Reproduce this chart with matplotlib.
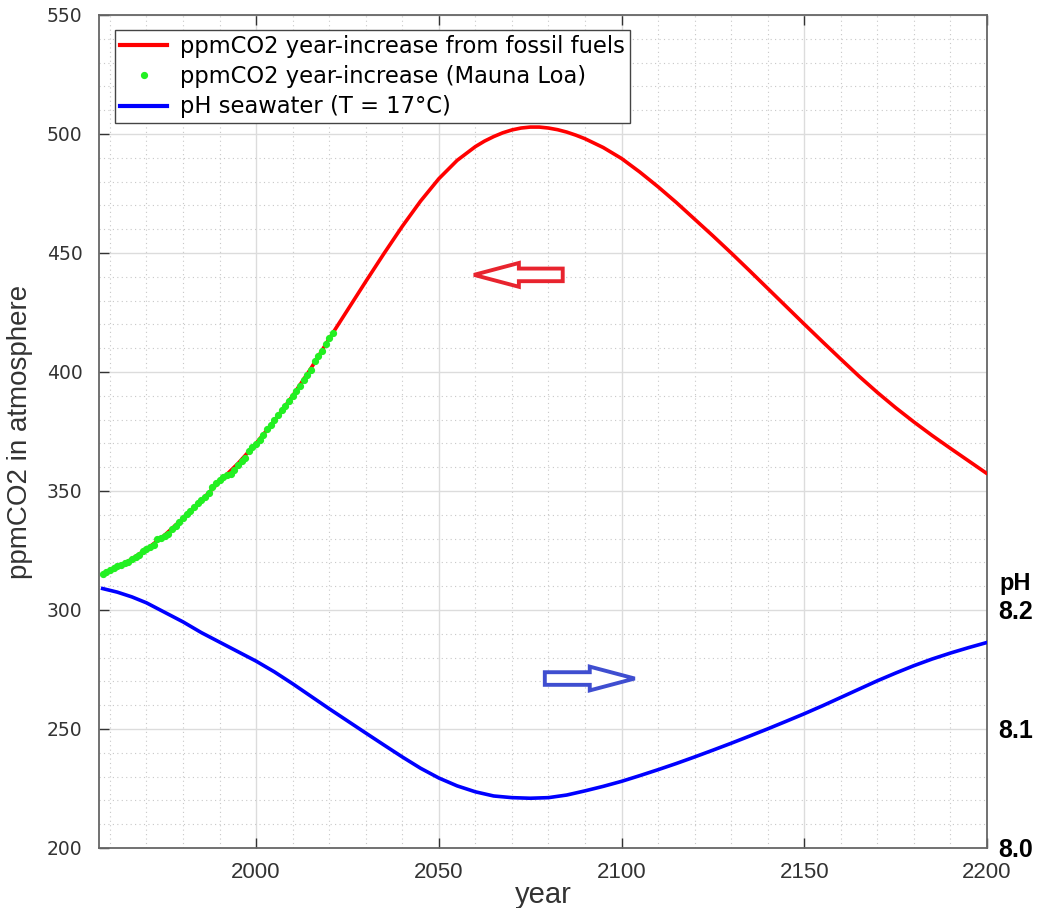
import matplotlib
matplotlib.use("Agg")
import matplotlib.pyplot as plt
import matplotlib.patches as mpatches
from matplotlib.ticker import MultipleLocator
from matplotlib.lines import Line2D

# ---------------- data ----------------
fossil_years = [1958, 1960, 1965, 1970, 1975, 1980, 1985, 1990, 1995, 2000, 2005,
                2010, 2015, 2020, 2025, 2030, 2035, 2040, 2045, 2050, 2055, 2060,
                2062.5, 2065, 2067.5, 2070, 2072.5, 2075, 2077.5, 2080, 2082.5,
                2085, 2087.5, 2090, 2095, 2100, 2105, 2110, 2115, 2120, 2125, 2130,
                2135, 2140, 2145, 2150, 2155, 2160, 2165, 2170, 2175, 2180, 2185,
                2190, 2195, 2200]
fossil_ppm = [315.0, 316.5, 320.5, 325.5, 331.5, 338.5, 346.0, 354.0, 361.5, 370.0,
              379.5, 390.0, 401.5, 414.0, 426.0, 438.0, 449.8, 461.2, 471.8, 481.2,
              488.9, 494.7, 497.0, 498.9, 500.5, 501.7, 502.5, 502.9, 502.9, 502.5,
              501.8, 500.8, 499.5, 498.0, 494.3, 489.7, 484.0, 477.8, 471.2, 464.2,
              457.2, 450.0, 442.6, 435.1, 427.6, 420.1, 412.7, 405.4, 398.2, 391.4,
              385.0, 379.0, 373.3, 367.9, 362.6, 357.3]

ml_years = list(range(1958, 2022))
ml_ppm = [315.3, 315.98, 316.91, 317.64, 318.45, 318.99, 319.62, 320.04, 321.37,
          322.18, 323.05, 324.62, 325.68, 326.32, 327.46, 329.68, 330.19, 331.12,
          332.03, 333.84, 335.41, 336.84, 338.76, 340.12, 341.48, 343.15, 344.85,
          346.35, 347.61, 349.31, 351.69, 353.20, 354.45, 355.70, 356.54, 357.21,
          358.96, 360.97, 362.74, 363.88, 366.84, 368.54, 369.71, 371.32, 373.45,
          375.98, 377.70, 379.98, 382.09, 384.02, 385.83, 387.64, 390.10, 391.85,
          394.06, 396.74, 398.81, 401.01, 404.41, 406.76, 408.72, 411.65, 414.21,
          416.41]

ph_years = [1958, 1962, 1966, 1970, 1975, 1980, 1985, 1990, 1995, 2000, 2005, 2010,
            2015, 2020, 2025, 2030, 2035, 2040, 2045, 2050, 2055, 2060, 2065, 2070,
            2075, 2080, 2085, 2090, 2095, 2100, 2105, 2110, 2115, 2120, 2125, 2130,
            2135, 2140, 2145, 2150, 2155, 2160, 2165, 2170, 2175, 2180, 2185, 2190,
            2195, 2200]
ph_values = [8.218, 8.215, 8.211, 8.206, 8.198, 8.190, 8.181, 8.173, 8.165, 8.157,
             8.148, 8.138, 8.1275, 8.117, 8.1068, 8.0966, 8.0865, 8.0765, 8.0670,
             8.0588, 8.0522, 8.0472, 8.0437, 8.0423, 8.0418, 8.0423, 8.0445, 8.0480,
             8.0518, 8.0560, 8.0608, 8.0658, 8.0710, 8.0765, 8.0822, 8.0880, 8.0940,
             8.1001, 8.1064, 8.1128, 8.1195, 8.1265, 8.1335, 8.1405, 8.1470, 8.1532,
             8.1588, 8.1638, 8.1684, 8.1727]

x_ticks = [2000, 2050, 2100, 2150, 2200]
y_ticks = [200, 250, 300, 350, 400, 450, 500, 550]
ph_ticks = [8.0, 8.1, 8.2]

labels = ["ppmCO2 year-increase from fossil fuels",
          "ppmCO2 year-increase (Mauna Loa)",
          "pH seawater (T = 17\u00b0C)"]

# annotation arrows (x_tail, y, dx) in data units
red_arrow = (2083.9, 440.8, -24.3)
blue_arrow = (2079.0, 271.2, 24.6)

# ---------------- figure ----------------
fig = plt.figure(figsize=(10.42, 9.08), dpi=100)
ax = fig.add_axes([0.095, 0.0661, 0.8522, 0.9174])

sans = ["Liberation Sans", "DejaVu Sans"]

ax.plot(fossil_years, fossil_ppm, color="#ff0000", lw=2.6, zorder=3,
        solid_capstyle="round", solid_joinstyle="round")
ax.plot(ml_years, ml_ppm, linestyle="none", marker="o", ms=4.2, color="#22f022",
        mec="#22f022", zorder=4)

ax.set_xlim(1957, 2200)
ax.set_ylim(200, 550)
ax.set_xticks(x_ticks)
ax.set_yticks(y_ticks)
ax.xaxis.set_minor_locator(MultipleLocator(10))
ax.yaxis.set_minor_locator(MultipleLocator(10))
ax.grid(which="major", color="#dcdcdc", lw=1.0, zorder=0)
ax.grid(which="minor", color="#c8c8c8", lw=0.8, linestyle=(0, (1, 3)), zorder=0)
ax.set_axisbelow(True)
ax.tick_params(which="major", direction="in", length=7, width=1.0, color="#333333",
               top=True, right=True, labelcolor="#333333")
ax.tick_params(axis="x", pad=10)
ax.tick_params(axis="y", pad=12)
ax.tick_params(which="minor", length=0)
for lab in ax.get_xticklabels():
    lab.set_family(sans)
    lab.set_fontsize(16)
for lab in ax.get_yticklabels():
    lab.set_family("DejaVu Sans")
    lab.set_fontsize(13.5)
for s in ax.spines.values():
    s.set_color("#666666")
    s.set_linewidth(1.3)

ax.set_xlabel("year", family=sans, fontsize=21, color="#333333", labelpad=-1)
ax.set_ylabel("ppmCO2 in atmosphere", family=sans, fontsize=20, color="#333333",
              labelpad=10)

# arrows
for (x0, y0, dx), col in ((red_arrow, "#e8242e"), (blue_arrow, "#3f4ed0")):
    arr = mpatches.FancyArrow(x0, y0, dx, 0, width=5.3, head_width=10.0,
                              head_length=12.3, length_includes_head=True,
                              facecolor="white", edgecolor=col, lw=2.8, zorder=5)
    ax.add_patch(arr)

# pH twin axis
ax2 = ax.twinx()
ax2.plot(ph_years, ph_values, color="#0000ff", lw=2.6, zorder=3,
         solid_joinstyle="round")
ax2.set_ylim(8.0, 8.7)
ax2.set_yticks(ph_ticks)
ax2.set_yticklabels(["8.0", "8.1", "8.2"])
ax2.tick_params(axis="y", length=0, pad=8, labelsize=18, labelcolor="black")
for lab in ax2.get_yticklabels():
    lab.set_family(sans)
    lab.set_fontweight("bold")
for s in ax2.spines.values():
    s.set_visible(False)
ax2.annotate("pH", xy=(1.0, 8.2226), xycoords=("axes fraction", "data"),
             xytext=(9, 0), textcoords="offset points", ha="left", va="center",
             fontsize=17, fontweight="bold", family=sans)

handles = [Line2D([], [], color="#ff0000", lw=3),
           Line2D([], [], linestyle="none", marker="o", ms=4.2, color="#22f022"),
           Line2D([], [], color="#0000ff", lw=3)]
leg = ax2.legend(handles, labels, loc="upper left", bbox_to_anchor=(0.018, 0.982),
                 fancybox=False, framealpha=1, edgecolor="#444444",
                 prop={"family": "DejaVu Sans", "size": 16.3}, handlelength=2.1,
                 handletextpad=0.55, borderpad=0.22, labelspacing=0.32,
                 borderaxespad=0)
leg.get_frame().set_linewidth(1.0)
leg.set_zorder(10)

fig.savefig("out.png", dpi=100)
